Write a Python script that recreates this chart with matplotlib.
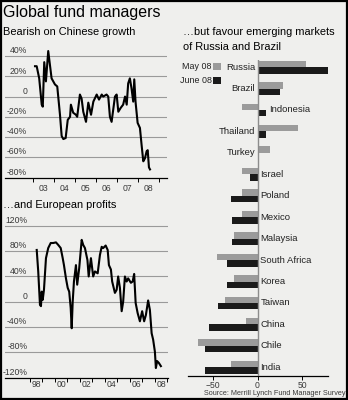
import matplotlib
matplotlib.use("Agg")
import matplotlib.pyplot as plt
from matplotlib.patches import Rectangle
import numpy as np

plt.rcParams['font.family'] = ['Liberation Sans', 'DejaVu Sans']

# ── Data ──────────────────────────────────────────────────────────────────────
# Chinese growth: net % bearish/bullish, decimal years
china_t = [2003.11, 2003.19, 2003.31, 2003.43, 2003.48, 2003.55, 2003.63, 2003.74,
           2003.90, 2004.06, 2004.17, 2004.30, 2004.38, 2004.46, 2004.57, 2004.67,
           2004.78, 2004.82, 2004.93, 2005.06, 2005.12, 2005.25, 2005.33, 2005.41,
           2005.54, 2005.65, 2005.78, 2005.89, 2006.05, 2006.16, 2006.29, 2006.36,
           2006.52, 2006.60, 2006.68, 2006.76, 2006.92, 2007.00, 2007.08, 2007.20,
           2007.31, 2007.40, 2007.48, 2007.55, 2007.63, 2007.71, 2007.79, 2007.84,
           2007.90, 2008.00, 2008.11, 2008.19, 2008.27, 2008.35, 2008.43, 2008.48,
           2008.54, 2008.59]
china_v = [30, 30, 18, -8, -10, 34, 15, 45,
           18, 12, 10, -18, -39, -42, -41, -23,
           -20, -8, -16, -18, -20, 2, -2, -15,
           -25, -6, -18, -5, 2, -3, 2, 0,
           2, 0, -20, -25, 0, 2, -15, -11,
           -8, 0, -8, 13, 18, 8, -5, 17,
           -5, -26, -31, -48, -64, -61, -54, -53,
           -70, -72]

# European profits
euro_t = [1998.54, 1998.66, 1998.80, 1998.88, 1998.94, 1999.02, 1999.12, 1999.28,
          1999.46, 1999.66, 1999.86, 2000.08, 2000.26, 2000.46, 2000.62, 2000.72,
          2000.88, 2001.02, 2001.14, 2001.26, 2001.34, 2001.42, 2001.52, 2001.68,
          2001.78, 2001.94, 2002.14, 2002.26, 2002.40, 2002.60, 2002.70, 2002.88,
          2003.06, 2003.20, 2003.42, 2003.60, 2003.74, 2003.86, 2004.06, 2004.22,
          2004.32, 2004.48, 2004.58, 2004.80, 2004.94, 2005.06, 2005.20, 2005.34,
          2005.46, 2005.60, 2005.74, 2005.86, 2006.08, 2006.22, 2006.34, 2006.46,
          2006.62, 2006.80, 2006.98, 2007.14, 2007.28, 2007.46, 2007.60, 2007.74,
          2007.86, 2008.00, 2008.08, 2008.18, 2008.32, 2008.48]
euro_v = [82, 48, -5, -7, 16, 3, 19, 69,
          85, 93, 93, 94, 90, 85, 69, 58,
          37, 22, 16, -10, -42, 0, 32, 58,
          27, 53, 98, 90, 85, 66, 40, 69,
          40, 48, 45, 74, 87, 85, 89, 82,
          58, 51, 32, 14, 19, 40, 22, -15,
          0, 40, 32, 37, 30, 32, 44, -2,
          -18, -31, -15, -31, -21, 2, -13, -50,
          -60, -79, -105, -94, -97, -102]

# Emerging markets
countries = ['Russia', 'Brazil', 'Indonesia', 'Thailand', 'Turkey', 'Israel', 'Poland',
             'Mexico', 'Malaysia', 'South Africa', 'Korea', 'Taiwan', 'China', 'Chile',
             'India']
may08 = [54, 28, -17, 45, 14, -17, -17, -17, -26, -45, -26, -36, -13, -67, -30]
jun08 = [81, 25, 10, 10, 0, -8, -30, -29, -29, -34, -34, -44, -54, -59, -59]

cn_yticks = [40, 20, 0, -20, -40, -60, -80]
eu_yticks = [120, 80, 40, 0, -40, -80, -120]
cn_years = list(range(2003, 2010))
eu_years = list(range(1998, 2010))

BG = '#efefed'
GRID = '#9a9a9a'
TXT = '#3a3a3a'
W, H = 348, 400

fig = plt.figure(figsize=(W / 100, H / 100), dpi=100)
fig.patch.set_facecolor(BG)


def fx(px):
    return px / W


def fy(py):
    return 1 - py / H


def line_panel(ax, t, v, yticks, years, label_every, ylim, xlim, lab_pad):
    ax.set_facecolor(BG)
    ax.set_xlim(*xlim)
    ax.set_ylim(*ylim)
    for s in ['top', 'right', 'left']:
        ax.spines[s].set_visible(False)
    ax.spines['bottom'].set_color('black')
    ax.spines['bottom'].set_linewidth(0.9)
    for yv in yticks[:-1]:
        ax.axhline(yv, color=GRID, lw=0.8, zorder=1)
    tr = ax.get_yaxis_transform()
    for yv in yticks:
        lab = '0' if yv == 0 else f'{yv}%'
        ax.text(0.136, yv + (ylim[1] - ylim[0]) * 0.006, lab, transform=tr,
                ha='right', va='bottom', fontsize=6.2, color=TXT)
    ax.set_yticks([])
    ax.plot(t, v, color='black', lw=1.5, zorder=3, solid_joinstyle='round')
    ax.set_xticks(years)
    ax.set_xticklabels([])
    ax.tick_params(axis='x', which='major', direction='out', length=3, width=0.7,
                   color='black')
    mids = [y + 0.5 for y in years[:-1]][::label_every]
    ax.set_xticks(mids, minor=True)
    ax.set_xticklabels([f'{int(m) % 100:02d}' for m in mids], minor=True)
    ax.tick_params(axis='x', which='minor', length=0, pad=lab_pad, labelsize=6.2,
                   labelcolor=TXT)


# --- Chinese growth ---
ax1 = fig.add_axes([fx(5), fy(177.5), fx(162), (177.5 - 48) / H])
line_panel(ax1, china_t, china_v, cn_yticks, cn_years, 1, (-80, 48),
           (2001.68, 2009.4), 5)

# --- European profits ---
ax2 = fig.add_axes([fx(5), fy(377.5), fx(163), (377.5 - 222.8) / H])
line_panel(ax2, euro_t, euro_v, eu_yticks, eu_years, 2, (-120, 125),
           (1996.0, 2009.05), 2)

# --- Emerging markets bars ---
ax3 = fig.add_axes([fx(188), fy(375.7), fx(140), (375.7 - 60) / H])
ax3.set_facecolor(BG)
pos = np.arange(len(countries))
bh = 0.3
ax3.barh(pos - bh / 2, may08, height=bh, color='#9b9b9b', zorder=2)
ax3.barh(pos + bh / 2, jun08, height=bh, color='#1a1a1a', zorder=2)
ax3.axvline(0, color='#8c8c8c', lw=1.0, zorder=3)
ax3.set_xlim(-78, 79)
ax3.set_ylim(14.39, -0.33)
for s in ['top', 'right', 'left']:
    ax3.spines[s].set_visible(False)
ax3.spines['bottom'].set_linewidth(0.9)
ax3.set_yticks([])
ax3.set_xticks([-50, 0, 50])
ax3.tick_params(axis='x', direction='out', length=3, width=0.7, pad=1,
                labelsize=6.2, labelcolor=TXT)
for i, name in enumerate(countries):
    top = max(may08[i], jun08[i])
    if min(may08[i], jun08[i]) >= 0:
        ax3.text(-2.5, i, name, ha='right', va='center', fontsize=6.8, color='#222222')
    else:
        ax3.text(max(0, top) + 3.2, i, name, ha='left', va='center', fontsize=6.8,
                 color='#222222')

# --- Texts ---
fig.text(fx(3), fy(12.5), 'Global fund managers', fontsize=11.5, va='center',
         ha='left', color='black')
fig.text(fx(3), fy(32), 'Bearish on Chinese growth', fontsize=7.9, va='center',
         ha='left', color='black')
fig.text(fx(3), fy(205), '\u2026and European profits', fontsize=7.9, va='center',
         ha='left', color='black')
fig.text(fx(183), fy(32), '\u2026but favour emerging markets', fontsize=7.9,
         va='center', ha='left', color='black')
fig.text(fx(183), fy(47), 'of Russia and Brazil', fontsize=7.9, va='center', ha='left',
         color='black')
fig.text(fx(346), fy(393.5), 'Source: Merrill Lynch Fund Manager Survey', fontsize=5.2,
         va='center', ha='right', color=TXT)

# legend
fig.text(fx(211.5), fy(66.5), 'May 08', fontsize=6.4, ha='right', va='center',
         color='#222222')
fig.text(fx(211.5), fy(80.5), 'June 08', fontsize=6.4, ha='right', va='center',
         color='#222222')
fig.patches.append(Rectangle((fx(213), fy(70)), fx(8), 7 / H, transform=fig.transFigure,
                             facecolor='#9b9b9b', edgecolor='none'))
fig.patches.append(Rectangle((fx(213), fy(84)), fx(8), 7 / H, transform=fig.transFigure,
                             facecolor='#1a1a1a', edgecolor='none'))

# frame
fig.patches.append(Rectangle((0.002, 0.002), 0.996, 0.996, transform=fig.transFigure,
                             fill=False, edgecolor='black', linewidth=1.6))

fig.savefig('out.png', dpi=100, facecolor=BG)
